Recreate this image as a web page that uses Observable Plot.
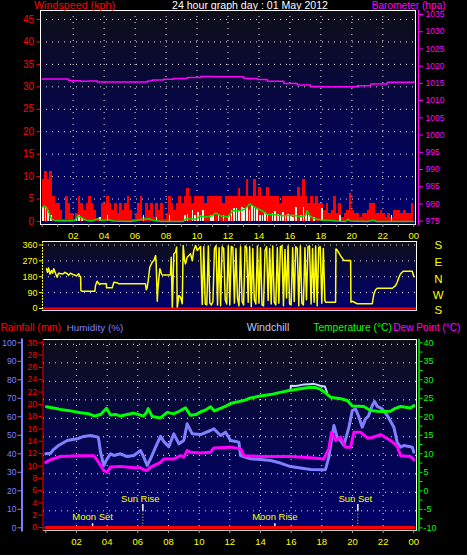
<!DOCTYPE html>
<html><head><meta charset="utf-8">
<script src="https://cdn.jsdelivr.net/npm/d3@7"></script>
<script src="https://cdn.jsdelivr.net/npm/@observablehq/plot@0.6"></script>
<style>
html,body{margin:0;padding:0;background:#000;}
#chart{position:relative;width:467px;height:555px;background:#000;overflow:hidden;}
</style></head><body><div id="chart"></div>
<script>
// ================= DATA =================
const hourLabels = ["02","04","06","08","10","12","14","16","18","20","22","00"];
const labelHours = [2,4,6,8,10,12,14,16,18,20,22,24];
const windTicks = [0,5,10,15,20,25,30,35,40,45];
const baroTicks = [975,980,985,990,995,1000,1005,1010,1015,1020,1025,1030,1035];
const dirTicks = [0,90,180,270,360];
const compass = ["S","E","N","W","S"];
const humTicks = [0,10,20,30,40,50,60,70,80,90,100];
const rainTicks = [0,2,4,6,8,10,12,14,16,18,20,22,24,26,28,30];
const tempTicks = [-10,-5,0,5,10,15,20,25,30,35,40];

// wind gust, kph, 10-minute blocks from 00:00
const gust10min = [
 9.3,11.1,9.3,11.1,5.6,3.9,  3.9,2.4,0.5,5.6,3.9,1.7,  0.5,1.7,5.6,3.9,2.4,3.9,  5.6,3.9,2.4,0.5,1.0,3.9,
 3.9,5.6,3.9,2.4,3.9,1.7,  3.9,2.4,3.9,5.6,2.4,0.5,  1.7,3.9,5.6,1.0,3.9,2.4,  3.9,1.0,3.9,2.4,3.9,0.5,
 1.7,5.6,3.9,2.4,3.9,5.6,  3.9,5.6,7.3,5.6,3.9,5.6,  5.6,5.6,5.6,3.9,5.6,5.6,  5.6,5.6,5.6,5.6,3.9,5.6,
 5.6,5.6,5.6,5.6,7.3,5.6,  5.6,9.3,5.6,5.6,9.3,5.6,  7.5,5.6,5.6,7.5,5.6,5.6,  5.6,5.6,3.9,5.6,5.6,5.6,
 5.6,5.6,5.6,7.5,5.6,9.3,  5.6,3.9,5.6,3.9,5.6,3.9,  3.9,2.4,3.9,1.7,2.4,5.6,  1.7,3.9,1.0,1.7,2.4,6.3,
 2.4,1.7,1.7,1.0,1.7,1.7,  2.4,3.9,3.9,1.7,1.7,2.4,  1.7,1.0,1.7,1.0,2.4,2.4,  2.4,1.7,2.4,1.7,1.7,3.9
];
// mean wind, kph, 10-minute blocks
const mean10min = [
 3.1,3.3,2.4,1.3,0,0,  0,0,0,0,0,0,  0,0.6,1.3,0.6,0,0,  0,0,0,0,1.0,0,
 0,1.3,0,0,0,0,  0,0,0,0,0,0,  0,0,0,1.3,0,0,  0,0,1.0,0,0,0,
 0,1.3,0,0,0,0,  0,1.3,1.5,0,2.4,1.3,  2.1,1.3,2.4,0,0,1.3,  1.3,0,1.5,0,1.3,0,
 1.3,2.4,2.8,2.8,2.2,3.1,  2.8,3.1,2.4,3.6,3.1,2.8,  1.3,1.3,2.0,1.5,0,1.8,  2.2,1.5,1.3,2.0,1.3,1.5,
 1.3,1.0,3.1,0,1.3,3.1,  1.5,1.3,0,1.0,0,0,  3.0,0,0,0,0,0,  0,1.3,0,0,0,0,
 0,0,0,0,0,0,  0,0,0,0,0,0,  0,0,0,1.3,0,0,  0,0,0,0,0,0
];
// average wind line [hour, kph]
const avgWind = [[0.0,3.2],[0.15,3.4],[0.3,3.0],[0.45,1.8],[0.6,0.6],[0.8,0.2],[1.5,0.1],[2.1,0.2],[2.3,1.2],[2.5,1.0],[2.8,0.3],[3.2,0.1],[3.6,0.6],[3.8,0.2],[4.3,0.4],[4.6,0.1],[5.7,0.0],[6.5,0.5],[6.9,0.6],[7.2,0.2],[7.7,0.0],[9.1,0.0],[9.3,0.6],[9.9,0.5],[10.2,1.2],[10.6,1.0],[11.0,1.3],[11.2,1.9],[11.5,1.3],[12.0,1.0],[12.3,2.4],[12.8,2.4],[13.1,2.8],[13.4,3.9],[13.6,3.5],[13.9,2.8],[14.2,2.4],[14.5,1.6],[15.0,1.5],[15.6,1.3],[16.2,1.4],[16.6,1.1],[17.0,1.3],[17.1,2.4],[17.3,1.2],[17.6,0.6],[18.1,0.3],[18.5,0.3],[19.0,0.1],[19.6,0.0],[19.75,0.5],[19.9,0.1],[21.0,0.0],[21.4,0.3],[21.6,0.0],[24,0.0]];
// barometer [hour, hPa]
const baro = [[0,1016.3],[1.0,1016.3],[1.72,1015.8],[2.47,1015.6],[3.0,1015.7],[3.55,1015.4],[5.06,1015.4],[6.35,1015.4],[6.8,1015.7],[7.1,1016.0],[7.84,1016.2],[8.48,1016.4],[9.37,1016.7],[10.23,1017.0],[11.07,1016.9],[12.36,1016.9],[13.02,1016.4],[13.89,1016.1],[14.53,1015.6],[15.61,1015.0],[16.47,1014.5],[17.33,1014.1],[17.98,1014.0],[19.48,1014.0],[20.35,1014.3],[21.21,1014.8],[22.29,1015.3],[23.36,1015.3],[24,1015.5]];
// wind direction [hour, degrees]
const windDir = [[0.05,225],[0.11,205],[0.18,230],[0.27,195],[0.37,215],[0.44,200],[0.52,225],[0.63,200],[0.74,177],[0.83,200],[1.09,195],[1.25,205],[1.40,197],[1.48,188],[1.61,200],[1.83,191],[2.0,185],[2.15,197],[2.22,181],[2.27,181],[2.29,101],[2.37,98],[3.2,98],[3.24,130],[3.35,155],[3.5,136],[3.57,140],[3.95,140],[3.96,117],[4.33,117],[4.44,149],[4.66,146],[4.76,140],[6.50,140],[6.55,106],[6.61,117],[6.68,159],[6.78,234],[6.94,263],[7.05,272],[7.16,300],[7.2,253],[7.27,41],[7.31,111],[7.37,168],[7.44,225],[7.53,200],[7.59,190],[8.13,190],[8.18,291],[8.25,5],[8.35,310],[8.46,319],[8.53,348],[8.57,2],[8.68,74],[8.79,64],[8.9,27],[8.96,357],[9.05,272],[9.11,253],[9.22,291],[9.44,310],[9.55,272],[9.65,329],[9.77,357],[9.88,329],[10.09,351],[10.2,23],
 [10.3,350],[10.4,25],[10.5,20],[10.6,355],[10.7,30],[10.8,20],[10.9,40],[11.0,340],[11.1,355],[11.2,20],[11.3,345],[11.4,15],[11.5,350],[11.6,340],[11.7,50],[11.8,25],[11.9,355],[12.0,20],[12.1,352],[12.2,345],[12.3,30],[12.4,340],[12.5,60],[12.6,15],[12.7,350],[12.8,40],[12.9,20],[13.0,355],[13.1,345],[13.2,35],[13.3,350],[13.4,10],[13.5,340],[13.6,50],[13.7,25],[13.8,355],[13.9,30],[14.0,345],[14.1,20],[14.2,15],[14.3,330],[14.4,350],[14.5,45],[14.6,340],[14.7,25],[14.8,355],[14.9,35],[15.0,20],[15.1,345],[15.2,30],[15.3,350],[15.4,355],[15.5,15],[15.6,335],[15.7,60],[15.8,355],[15.9,25],[16.0,20],[16.1,345],[16.2,40],[16.3,350],[16.4,340],[16.5,15],[16.6,355],[16.7,30],[16.8,20],[16.9,345],[17.0,50],[17.1,350],[17.2,355],[17.3,25],[17.4,340],[17.5,35],[17.6,355],[17.7,15],[17.8,345],[17.9,350],[18.0,30],[18.1,340],[18.2,45],
 [18.25,36],[18.9,36],[18.92,338],[19.0,331],[19.22,300],[19.44,272],[19.88,272],[19.9,36],[19.99,41],[20.31,27],[21.29,27],[21.4,83],[21.51,106],[21.62,115],[22.6,115],[22.81,130],[22.92,149],[23.03,177],[23.14,197],[23.31,211],[23.9,211],[24.0,181]];
// temperature [hour, °C]
const temperature = [[0.05,22.7],[0.5,22.4],[0.96,22.0],[1.6,21.6],[2.26,21.1],[2.8,20.8],[3.2,20.2],[3.6,20.7],[3.96,22.3],[4.22,20.5],[4.6,20.6],[4.87,20.2],[5.3,20.6],[5.72,21.0],[6.0,20.7],[6.37,20.2],[6.55,21.0],[6.68,22.2],[6.94,20.1],[7.48,19.7],[7.92,21.2],[8.33,20.8],[8.7,21.5],[9.11,22.4],[9.44,20.4],[9.8,20.6],[10.09,21.3],[10.4,21.8],[10.74,22.7],[11.0,21.6],[11.4,22.3],[11.7,22.8],[12.05,23.6],[12.57,24.1],[13.0,24.5],[13.35,25.1],[14.0,25.6],[14.66,26.0],[15.3,26.6],[15.96,27.2],[16.6,27.6],[17.27,28.0],[17.6,27.9],[17.92,27.4],[18.2,26.6],[18.57,25.3],[19.22,24.9],[19.66,24.4],[19.99,22.9],[20.74,22.8],[21.18,21.7],[21.83,21.4],[22.48,21.5],[22.8,22.3],[23.14,22.8],[23.79,22.4],[24.0,23.0]];
// humidity [hour, %]
const humidity = [[0,40.0],[0.31,40.3],[0.5,42.3],[0.83,44.5],[1.4,47.2],[2.05,48.1],[2.48,49.4],[2.92,49.9],[3.42,49.0],[3.46,47.2],[3.57,40.9],[3.78,33.7],[4.0,37.3],[4.22,40.0],[4.44,39.1],[4.87,40.0],[5.31,38.5],[5.74,39.1],[6.18,41.8],[6.39,38.2],[6.61,33.7],[6.83,37.3],[7.16,43.6],[7.48,49.4],[7.7,46.6],[8.02,43.9],[8.35,50.8],[8.68,45.4],[9.0,47.2],[9.22,56.2],[9.55,50.8],[10.09,50.4],[10.74,52.6],[10.96,53.5],[11.4,49.9],[11.72,51.7],[12.05,47.2],[12.59,46.3],[12.7,39.1],[13.35,37.3],[14.0,36.9],[14.66,36.4],[15.3,35.0],[15.96,33.1],[16.6,32.3],[17.27,31.5],[18.24,31.4],[18.46,38.2],[18.57,44.5],[18.79,55.3],[19.0,49.0],[19.22,47.2],[19.44,44.5],[19.77,54.4],[19.99,63.4],[20.2,64.3],[20.42,59.8],[20.64,54.4],[20.85,58.9],[21.03,60.2],[21.29,66.1],[21.44,68.3],[21.62,65.6],[21.94,64.3],[22.27,60.7],[22.7,54.4],[22.92,46.1],[23.14,43.6],[23.35,44.5],[23.9,43.6],[24.0,40.9]];
// dew point [hour, °C]
const dewPoint = [[0,7.7],[0.31,8.4],[0.96,9.3],[2.26,9.5],[3.13,9.5],[3.37,8.2],[3.78,5.5],[4.0,5.0],[4.22,6.4],[4.87,6.6],[5.74,6.2],[6.18,6.2],[6.39,5.7],[6.61,5.5],[6.83,6.4],[7.48,7.7],[7.7,8.6],[8.35,8.6],[8.79,9.5],[9.0,9.1],[9.22,10.9],[9.44,10.4],[10.09,10.2],[10.74,10.4],[10.96,11.6],[12.05,11.8],[12.7,11.4],[12.92,9.5],[14.0,9.3],[15.96,9.3],[17.27,8.9],[18.13,8.6],[18.46,11.4],[18.64,15.8],[18.9,13.6],[19.22,14.5],[19.55,11.8],[19.88,11.8],[20.09,15.8],[20.53,15.8],[20.97,14.3],[21.29,14.4],[21.83,15.2],[22.48,13.6],[22.92,12.0],[23.14,9.5],[23.79,9.3],[24.0,8.4]];
// windchill where it differs from temperature [hour, °C]
const windChill = [[15.95,27.2],[15.98,28.4],[16.3,28.3],[16.8,28.7],[17.2,28.8],[17.5,28.9],[17.9,28.4],[18.2,28.2],[18.35,26.5]];
// rainfall [hour, mm]
const rainfall = [[0,0],[1,0],[2,0],[3,0],[4,0],[5,0],[6,0],[7,0],[8,0],[9,0],[10,0],[11,0],[12,0],[13,0],[14,0],[15,0],[16,0],[17,0],[18,0],[19,0],[20,0],[21,0],[22,0],[23,0],[24,0]];
// sun & moon events
const events = [
  {name:"Moon Set", hour:3.05, body:"moon"},
  {name:"Sun Rise", hour:6.33, body:"sun"},
  {name:"Moon Rise", hour:14.94, body:"moon"},
  {name:"Sun Set", hour:20.35, body:"sun"}
];
const titleText = "24 hour graph day : 01 May 2012";

// ================= DRAW =================
const W = 467, H = 555;
const FONT = '"Liberation Sans", Arial, sans-serif';
const chart = document.getElementById("chart");

// gradient background definition
const defsSvg = d3.select(chart).append("svg").attr("width",0).attr("height",0)
  .style("position","absolute").style("left",0).style("top",0);
const grad = defsSvg.append("defs").append("linearGradient").attr("id","bg")
  .attr("x1",0).attr("y1",0).attr("x2",0).attr("y2",1);
grad.append("stop").attr("offset","0%").attr("stop-color","#0e0e18");
grad.append("stop").attr("offset","55%").attr("stop-color","#050550");
grad.append("stop").attr("offset","100%").attr("stop-color","#00006c");

function add(opts){
  const p = Plot.plot({width:W, height:H,
    style:{background:"transparent", fontFamily:FONT, overflow:"visible"}, ...opts});
  p.style.position = "absolute"; p.style.left = "0px"; p.style.top = "0px";
  p.style.maxWidth = "none";
  chart.appendChild(p);
  return p;
}
const dots = {stroke:"#ffffff", strokeDasharray:"1,5", strokeOpacity:0.9};
const gridHours = [2,4,6,8,10,12,14,16,18,20,22];
const xs1 = {domain:[0,24], range:[41.7,413.3], axis:null};
const xs2 = {domain:[0,24], range:[45.3,413.3], axis:null};
const hourFmt = d => hourLabels[labelHours.indexOf(d)];
const plain = d => String(d);

// ---- Panel 1: wind ----
add({
  marginTop:10, marginBottom:H-224, marginLeft:40, marginRight:52,
  x:xs1, y:{domain:[0,45], range:[221,19], axis:null},
  marks:[
    Plot.frame({fill:"url(#bg)"}),
    Plot.ruleY(windTicks.slice(1), dots),
    Plot.ruleX(gridHours, dots),
    Plot.rect(gust10min, {x1:(d,i)=>i/6, x2:(d,i)=>(i+1)/6, y1:0, y2:d=>d, fill:"#ff0000", shapeRendering:"crispEdges"}),
    Plot.rect(mean10min, {x1:(d,i)=>i/6+0.03, x2:(d,i)=>(i+1)/6-0.03, y1:0, y2:d=>d, fill:"#e4f4e4", shapeRendering:"crispEdges"}),
    Plot.line(avgWind, {x:d=>d[0], y:d=>d[1], stroke:"#00e000", strokeWidth:1.5}),
    Plot.frame({stroke:"#ffffff"}),
    Plot.axisY({ticks:windTicks, anchor:"left", tickSize:3.5, tickPadding:3, color:"#ff0000", fontSize:10, tickFormat:plain, label:null}),
    Plot.axisX({ticks:labelHours, tickSize:0, tickPadding:7.5, color:"#ffff00", fontSize:9.5, tickFormat:hourFmt, label:null}),
    Plot.axisX({ticks:d3.range(0,25), tickSize:3, fill:"none", stroke:"#a0a0a0", label:null})
  ]
});
// barometer overlay
add({
  marginTop:10, marginBottom:H-224, marginLeft:40, marginRight:49,
  x:xs1, y:{domain:[975,1035], range:[220.7,14], axis:null},
  marks:[
    Plot.line(baro, {x:d=>d[0], y:d=>d[1], stroke:"#ff00ff", strokeWidth:1.5, curve:"step-after"}),
    Plot.frame({anchor:"right", stroke:"#ff00ff"}),
    Plot.axisY({ticks:baroTicks, anchor:"right", tickSize:4, tickPadding:3, color:"#ff00ff", fontSize:8.5, tickFormat:plain, label:null})
  ]
});

// ---- Panel 2: wind direction ----
add({
  marginTop:241, marginBottom:H-310, marginLeft:42, marginRight:51,
  x:xs2, y:{domain:[0,360], range:[308,244.5], axis:null},
  marks:[
    Plot.frame({fill:"url(#bg)"}),
    Plot.ruleY([90,180,270,360], dots),
    Plot.line(windDir, {x:d=>d[0], y:d=>d[1], stroke:"#ffff00", strokeWidth:1.5}),
    Plot.ruleY([0], {stroke:"#ff0000", strokeWidth:2}),
    Plot.frame({anchor:"top", stroke:"#ffffff"}),
    Plot.frame({anchor:"right", stroke:"#ffffff"}),
    Plot.frame({anchor:"bottom", stroke:"#d0d8ff"}),
    Plot.frame({anchor:"left", stroke:"#ffff00", strokeDasharray:"1,2"}),
    Plot.axisY({ticks:dirTicks, anchor:"left", tickSize:3, tickPadding:2, color:"#ffff00", fontSize:9, tickFormat:plain, label:null})
  ]
});

// ---- Panel 3 background + humidity ----
add({
  marginTop:339, marginBottom:H-530, marginLeft:43, marginRight:51,
  x:xs2, y:{domain:[0,100], range:[527.3,342.3], axis:null},
  marks:[
    Plot.frame({fill:"url(#bg)"}),
    Plot.ruleY(humTicks.slice(1), {...dots, dy:1.5}),
    Plot.ruleX(gridHours, dots),
    Plot.line(humidity, {x:d=>d[0], y:d=>d[1], stroke:"#8080ff", strokeWidth:3})
  ]
});
// temperatures, events, borders, x axis
add({
  marginTop:339, marginBottom:H-530, marginLeft:43, marginRight:51,
  x:xs2, y:{domain:[-10,40], range:[527.3,342.3], axis:null},
  marks:[
    Plot.line(windChill, {x:d=>d[0], y:d=>d[1], stroke:"#c4d8ff", strokeWidth:2}),
    Plot.line(dewPoint, {x:d=>d[0], y:d=>d[1], stroke:"#ff00ff", strokeWidth:3}),
    Plot.line(temperature, {x:d=>d[0], y:d=>d[1], stroke:"#00ff00", strokeWidth:3}),
    Plot.ruleX(events, {filter:d=>d.body==="sun", x:"hour", y1:-5.5, y2:-10.5, stroke:"#ffff00", strokeDasharray:"1,2"}),
    Plot.ruleX(events, {x:"hour", y1:d=>d.body==="sun"?-3.7:-8.9, y2:d=>d.body==="sun"?-5.5:-10.5, stroke:"#ffffff", strokeWidth:1.5}),
    Plot.text(events, {filter:d=>d.body==="sun", x:"hour", y:-2.1, text:"name", fill:"#ffff00", fontSize:9.5, lineAnchor:"middle", dx:-2.5}),
    Plot.text(events, {filter:d=>d.body==="moon", x:"hour", y:-7.2, text:"name", fill:"#ffff00", fontSize:9.5, lineAnchor:"middle"}),
    Plot.frame({anchor:"top", stroke:"#ffffff"}),
    Plot.frame({anchor:"right", stroke:"#ffffff"}),
    Plot.frame({anchor:"bottom", stroke:"#c8c8c8"}),
    Plot.axisX({ticks:labelHours, tickSize:0, tickPadding:8, color:"#ffff00", fontSize:9.5, tickFormat:hourFmt, label:null}),
    Plot.axisX({ticks:[0,2,4,6,8,10,12,14,16,18,20,22,24], tickSize:3, fill:"none", stroke:"#a0a0a0", label:null})
  ]
});
// humidity axis
add({
  marginTop:339, marginBottom:H-530, marginLeft:21.5, marginRight:51,
  x:xs2, y:{domain:[0,100], range:[527.3,342.3], axis:null},
  marks:[
    Plot.frame({anchor:"left", stroke:"#8080ff", strokeWidth:2}),
    Plot.axisY({ticks:humTicks, anchor:"left", tickSize:4, tickPadding:1.5, color:"#8080ff", fontSize:8.5, tickFormat:plain, label:null})
  ]
});
// rainfall
add({
  marginTop:339, marginBottom:H-530, marginLeft:42.5, marginRight:51,
  x:xs2, y:{domain:[0,30], range:[527,342.3], axis:null},
  marks:[
    Plot.line(rainfall, {x:d=>d[0], y:d=>d[1], stroke:"#ff0000", strokeWidth:3}),
    Plot.frame({anchor:"left", stroke:"#ff0000", strokeDasharray:"1,1"}),
    Plot.axisY({ticks:rainTicks, anchor:"left", tickSize:4, tickPadding:2, color:"#ff0000", fontSize:8.5, tickFormat:plain, label:null})
  ]
});
// temperature axis
add({
  marginTop:339, marginBottom:H-530, marginLeft:43, marginRight:48.5,
  x:xs2, y:{domain:[-10,40], range:[527.3,342.3], axis:null},
  marks:[
    Plot.frame({anchor:"right", stroke:"#00ff00", strokeWidth:1.5}),
    Plot.axisY({ticks:d3.range(-10,40.01,2.5), anchor:"right", tickSize:3, tickPadding:1.5, color:"#00ff00", fontSize:9,
      tickFormat:d => (tempTicks.includes(d) ? String(d) : ""), label:null})
  ]
});

// ---- free text ----
const ov = d3.select(chart).append("svg").attr("width",W).attr("height",H)
  .style("position","absolute").style("left",0).style("top",0)
  .attr("font-family",FONT);
const labels = [
  {t:"Windspeed (kph)", x:34, y:8.7, w:81, s:10.7, c:"#ff0000"},
  {t:titleText, x:172, y:9, w:156, s:10.4, c:"#ffffff"},
  {t:"Barometer (hpa)", x:371.7, y:8.5, w:74, s:10.2, c:"#ff00ff"},
  {t:"Rainfall (mm)", x:0.5, y:330.7, w:60.5, s:10.2, c:"#ff0000"},
  {t:"Humidity (%)", x:66.7, y:330.7, w:56.6, s:9.9, c:"#8080ff"},
  {t:"Windchill", x:246.7, y:330.7, w:42.6, s:10.6, c:"#b4c8ff"},
  {t:"Temperature (°C)", x:313.3, y:330.7, w:78.5, s:10.0, c:"#00ff00"},
  {t:"Dew Point (°C)", x:393.2, y:330.7, w:67.3, s:10.1, c:"#ff00ff"}
];
labels.forEach(l => ov.append("text").attr("x",l.x).attr("y",l.y).attr("fill",l.c)
  .attr("font-size",l.s).attr("textLength",l.w).attr("lengthAdjust","spacingAndGlyphs").text(l.t));
const compassY = [248.7, 266, 282.7, 299.3, 314];
compass.forEach((c,i) => ov.append("text").attr("x",438.3).attr("y",compassY[i]).attr("fill","#ffff00")
  .attr("font-size",11.5).attr("text-anchor","middle").text(c));
</script></body></html>
